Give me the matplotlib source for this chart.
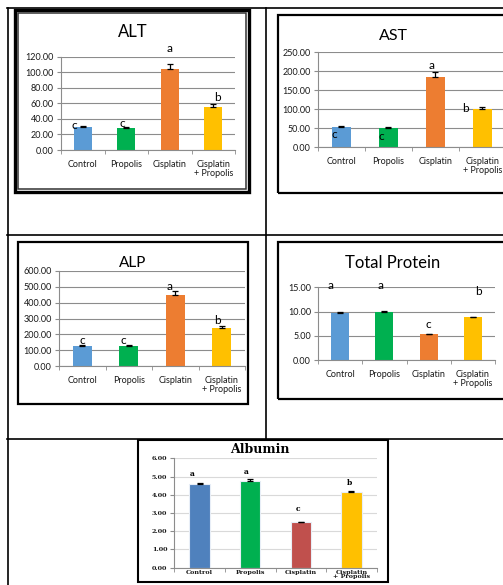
import matplotlib
matplotlib.use('Agg')
import matplotlib.pyplot as plt
from matplotlib.patches import Rectangle
from matplotlib.lines import Line2D
import numpy as np

W, H = 503, 585

categories = ['Control', 'Propolis', 'Cisplatin', 'Cisplatin\n+ Propolis']

alt_mean = [29.6, 28.3, 104.2, 55.3]
alt_err = [1.5, 1.5, 6.0, 3.5]
alt_letters = ['c', 'c', 'a', 'b']

ast_mean = [53.4, 50.8, 185.0, 100.0]
ast_err = [2.5, 2.5, 13.0, 5.0]
ast_letters = ['c', 'c', 'a', 'b']

alp_mean = [126.0, 124.0, 448.0, 240.0]
alp_err = [8.0, 6.0, 28.0, 14.0]
alp_letters = ['c', 'c', 'a', 'b']

tp_mean = [9.76, 9.97, 5.36, 8.87]
tp_err = [0.12, 0.08, 0.08, 0.08]
tp_letters = ['a', 'a', 'c', 'b']

alb_mean = [4.58, 4.78, 2.49, 4.17]
alb_err = [0.05, 0.07, 0.04, 0.06]
alb_letters = ['a', 'a', 'c', 'b']

office_colors = ['#5B9BD5', '#00B050', '#ED7D31', '#FFC000']
alb_colors = ['#4F81BD', '#00B050', '#C0504D', '#FFC000']

fig = plt.figure(figsize=(W / 100, H / 100), dpi=100)
fig.patch.set_facecolor('white')


def fx(x):
    return x / W


def fy(y):
    return 1 - y / H


def hline(y, x0, x1, lw=1.2, color='black'):
    fig.add_artist(Line2D([fx(x0), fx(x1)], [fy(y), fy(y)], lw=lw, color=color))


def vline(x, y0, y1, lw=1.2, color='black'):
    fig.add_artist(Line2D([fx(x), fx(x)], [fy(y0), fy(y1)], lw=lw, color=color))


def frame(x0, y0, x1, y1, lw=1.5, color='black'):
    fig.add_artist(Rectangle((fx(x0), fy(y1)), fx(x1) - fx(x0), fy(y0) - fy(y1),
                             transform=fig.transFigure, fill=False,
                             lw=lw, edgecolor=color))


# table grid
hline(8, 7, 503)
hline(235, 7, 503)
hline(439, 7, 503)
vline(7.5, 8, 585)
vline(266, 8, 439)

# chart frames (the ALT one has a double border)
frame(14.5, 9.5, 248.5, 192, lw=2.4)
frame(17.5, 12.5, 245.5, 189, lw=1.1, color='#333333')
frame(277.5, 15, 530, 193, lw=1.6)
frame(17.5, 242, 247.5, 404, lw=1.6)
frame(277.5, 242, 530, 399, lw=1.6)
frame(138, 440, 388, 582, lw=1.5)


def bar_chart(box, mean, err, letters, letter_pos, ymax, ystep, colors,
              title, title_xy, title_size, grid='#8C8C8C', font='Lato',
              tick_size=6.5, letter_size=8.5, weight='normal', bar_w=0.41,
              edge=None, xpad=7, linespacing=1.05):
    x0, y0, x1, y1 = box
    ax = fig.add_axes([fx(x0), fy(y1), fx(x1) - fx(x0), fy(y0) - fy(y1)])
    ax.set_facecolor('none')
    x = np.arange(len(mean))
    ax.bar(x, mean, width=bar_w, color=colors, zorder=2,
           edgecolor=edge if edge else 'none', linewidth=0.8 if edge else 0)
    ax.errorbar(x, mean, yerr=[np.zeros(len(err)), err], fmt='none',
                ecolor='black', elinewidth=0.9, capsize=2.2, capthick=0.9,
                zorder=3)
    ax.set_xlim(-0.5, len(mean) - 0.5)
    ax.set_ylim(0, ymax)
    ticks = np.arange(0, ymax + ystep / 2, ystep)
    ax.set_yticks(ticks)
    ax.set_yticklabels([f'{t:.2f}' for t in ticks], fontsize=tick_size,
                       fontfamily=font, fontweight=weight, color='#1A1A1A')
    ax.set_xticks(x)
    ax.set_xticklabels(categories, fontsize=tick_size, fontfamily=font,
                       fontweight=weight, color='#1A1A1A',
                       linespacing=linespacing)
    ax.set_xticks(np.arange(len(mean) + 1) - 0.5, minor=True)
    ax.tick_params(axis='x', which='major', length=0, pad=xpad)
    ax.tick_params(axis='x', which='minor', length=3, color='#8C8C8C',
                   direction='out')
    ax.tick_params(axis='y', length=3, color='#8C8C8C', pad=2)
    ax.yaxis.grid(True, color=grid, lw=0.8, zorder=0)
    ax.set_axisbelow(True)
    for s in ('top', 'right'):
        ax.spines[s].set_visible(False)
    for s in ('left', 'bottom'):
        ax.spines[s].set_color('#8C8C8C')
        ax.spines[s].set_linewidth(0.8)
    for i, (lab, (dx, ly)) in enumerate(zip(letters, letter_pos)):
        ax.text(i + dx, ly, lab, ha='center', va='center',
                fontsize=letter_size, fontfamily=font, fontweight=weight,
                clip_on=False, zorder=4)
    fig.text(fx(title_xy[0]), fy(title_xy[1]), title, ha='center',
             va='center', fontsize=title_size, fontfamily=font,
             fontweight=weight)
    return ax


bar_chart((61, 56.7, 235, 150), alt_mean, alt_err, alt_letters,
          [(-0.2, 31), (-0.1, 34.7), (0.0, 131), (0.1, 68)],
          120, 20, office_colors, 'ALT', (133, 32), 12)

bar_chart((317.7, 52.3, 505.7, 147.3), ast_mean, ast_err, ast_letters,
          [(-0.14, 35), (-0.14, 29.7), (-0.08, 215), (-0.35, 103)],
          250, 50, office_colors, 'AST', (393, 36), 11.5)

bar_chart((59, 271, 245, 366), alp_mean, alp_err, alp_letters,
          [(0.0, 158), (-0.12, 164), (-0.12, 499), (-0.1, 290)],
          600, 100, office_colors, 'ALP', (133, 263), 11)

bar_chart((318, 287.3, 495, 360), tp_mean, tp_err, tp_letters,
          [(-0.21, 15.3), (-0.09, 15.3), (0.0, 7.4), (0.12, 14.1)],
          15, 5, office_colors, 'Total Protein', (393, 263), 12)

bar_chart((174.3, 458.3, 376.7, 567.7), alb_mean, alb_err, alb_letters,
          [(-0.15, 5.13), (-0.07, 5.27), (-0.05, 3.22), (-0.04, 4.67)],
          6, 1, alb_colors, 'Albumin', (260, 449.5), 9, grid='#D9D9D9',
          font='DejaVu Serif', tick_size=4.6, letter_size=5.5,
          weight='bold', bar_w=0.4, edge='#E8EEF7', xpad=1.5,
          linespacing=0.8)

fig.savefig('out.png', dpi=100, facecolor='white')
